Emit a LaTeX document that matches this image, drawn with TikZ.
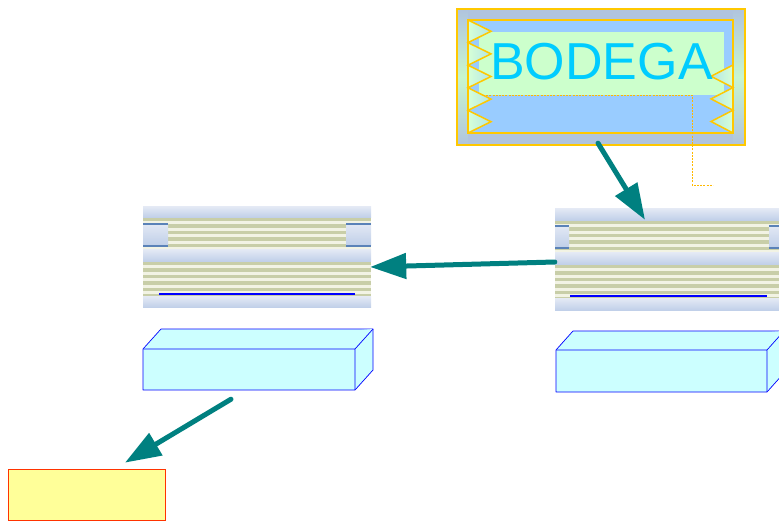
\documentclass[tikz,border=0pt]{standalone}
\usepackage{fontspec}
\setmainfont{Liberation Sans}
\usetikzlibrary{arrows.meta}
\definecolor{gold}{HTML}{FFC800}
\definecolor{teal2}{HTML}{008080}
\definecolor{skyb}{HTML}{99CCFF}
\definecolor{mint}{HTML}{CCFFCC}
\definecolor{steel}{HTML}{B0C4DE}
\definecolor{bandA}{HTML}{BECEE8}
\definecolor{bandB}{HTML}{E2E8F4}
\definecolor{olive}{HTML}{C8CEA8}
\definecolor{cream}{HTML}{F2F3E4}
\definecolor{cyanbox}{HTML}{CCFFFF}
\definecolor{lemon}{HTML}{FFFF99}
\definecolor{redline}{HTML}{FF3300}
\definecolor{txtcyan}{HTML}{00CCFF}
\definecolor{slate}{HTML}{5A82B8}
\tikzset{
  conn/.style={draw=teal2, line width=5pt, line cap=round, -{Triangle[length=36pt,width=25pt]}},
  box3d/.style={draw=blue, fill=cyanbox, line width=0.7pt, line join=round},
  band/.style={top color=bandB, bottom color=bandA},
  goldline/.style={draw=gold, line width=1.8pt},
}
\newcommand{\stripes}[4]{% x0 y0 x1 y1
  \fill[cream] (#1,#2) rectangle (#3,#4);
  \pgfmathsetmacro{\hh}{#4-#2}
  \pgfmathtruncatemacro{\nn}{\hh/6.4}
  \foreach \k in {0,...,\nn}{
    \pgfmathsetmacro{\ya}{#2+\k*6.4}
    \pgfmathsetmacro{\yb}{min(\ya+3.4,#4)}
    \fill[olive] (#1,\ya) rectangle (#3,\yb);
  }
}
\begin{document}
\begin{tikzpicture}[x=1pt,y=-1pt]
\useasboundingbox (0,0) rectangle (779,521);
\clip (0,0) rectangle (779,521);

% ---------- BODEGA box ----------
\node[rectangle, inner sep=0pt, minimum width=288pt, minimum height=136pt, fill=steel]
      (bodega) at (601,77) {};
\fill[top color=steel, bottom color=steel, middle color=mint!85!steel] (457,9) rectangle (468,145);
\fill[top color=steel, bottom color=steel, middle color=mint!85!steel] (733,9) rectangle (745,145);
\draw[goldline] (bodega.north west) rectangle (bodega.south east);
\fill[skyb] (468,20) rectangle (733,133);
\fill[mint] (479,32) rectangle (724,95);
% teeth
\fill[left color=mint!80!white, right color=mint!50!skyb]
  (468,20) -- (491,31.3) -- (468,42.6) -- (491,53.9) -- (468,65.2) -- (491,76.5)
  -- (468,87.8) -- (491,99.1) -- (468,110.4) -- (491,121.7) -- (468,133) -- cycle;
\fill[right color=mint!80!white, left color=mint!50!skyb]
  (733,65) -- (711,76.3) -- (733,87.6) -- (711,98.9) -- (733,110.2) -- (711,121.5) -- (733,133) -- cycle;
\draw[draw=gold, line width=1.5pt, line join=miter]
  (468,20) -- (491,31.3) -- (468,42.6) -- (491,53.9) -- (468,65.2) -- (491,76.5)
  -- (468,87.8) -- (491,99.1) -- (468,110.4) -- (491,121.7) -- (468,133);
\draw[draw=gold, line width=1.5pt, line join=miter]
  (733,65) -- (711,76.3) -- (733,87.6) -- (711,98.9) -- (733,110.2) -- (711,121.5) -- (733,133);
\draw[goldline] (468,20) rectangle (733,133);
\node[anchor=base, inner sep=0pt, text=txtcyan, font=\fontsize{52}{52}\selectfont] (label) at (601.5,80) {BODEGA};
% dotted leader
\coordinate (lead) at (713,185);
\draw[gold!80!orange, line width=0.7pt, dash pattern=on 2pt off 1.2pt]
  (483,95) -- (692,95) -- (692,185) -- (lead);

% ---------- striped blocks ----------
\node[rectangle, inner sep=0pt, minimum width=228pt, minimum height=101pt] (blkL) at (257,257.5) {};
\fill[band] (143,207) rectangle (371,218);
\stripes{143}{218}{371}{250}
\fill[band] (143,224) rectangle (168,246);
\fill[band] (346,224) rectangle (371,246);
\fill[band] (143,250) rectangle (371,262);
\stripes{143}{262}{371}{297}
\fill[band] (143,297) rectangle (371,308);
\draw[slate, line width=1.3pt] (143,224) -- (168,224) (346,224) -- (371,224)
  (143,246) -- (168,246) (346,246) -- (371,246);
\draw[blue, line width=1.3pt] (159,294) -- (355,294);

\node[rectangle, inner sep=0pt, minimum width=224pt, minimum height=102pt] (blkR) at (667,260) {};
\fill[band] (555,209) rectangle (779,221);
\stripes{555}{221}{779}{253}
\fill[band] (555,226) rectangle (569,248);
\fill[band] (769,226) rectangle (779,248);
\fill[band] (555,253) rectangle (779,265);
\stripes{555}{265}{779}{299}
\fill[band] (555,299) rectangle (779,311);
\draw[slate, line width=1.3pt] (555,226) -- (569,226) (769,226) -- (779,226)
  (555,248) -- (569,248) (769,248) -- (779,248);
\draw[blue, line width=1.3pt] (570,296) -- (767,296);

% ---------- 3D boxes ----------
\node[rectangle, inner sep=0pt, minimum width=212pt, minimum height=41pt] (cubeL) at (249,369.5) {};
\draw[box3d] (143,349) -- (161,329) -- (373,329) -- (373,370) -- (355,390) -- (143,390) -- cycle;
\draw[box3d] (143,349) -- (355,349) -- (373,329) (355,349) -- (355,390);

\node[rectangle, inner sep=0pt, minimum width=211pt, minimum height=42pt] (cubeR) at (661.5,371) {};
\draw[box3d] (556,350) -- (573,331) -- (784,331) -- (784,373) -- (767,392) -- (556,392) -- cycle;
\draw[box3d] (556,350) -- (767,350) -- (784,331) (767,350) -- (767,392);

% ---------- yellow box ----------
\node[rectangle, inner sep=0pt, minimum width=157pt, minimum height=51pt,
      draw=redline, fill=lemon, line width=0.7pt] (ybox) at (86.5,494.5) {};

% ---------- connectors ----------
\coordinate (a1s) at ([xshift=-3pt,yshift=2pt]bodega.south);
\coordinate (a1e) at ([xshift=-22pt,yshift=-11pt]blkR.north);
\draw[conn] (a1s) -- (a1e);
\coordinate (a2s) at ([yshift=-2pt]blkR.west);
\coordinate (a2e) at ([xshift=-1pt,yshift=-9.5pt]blkL.east);
\draw[conn] (a2s) -- (a2e);
\coordinate (a3s) at ([xshift=-18pt,yshift=-9pt]cubeL.south);
\coordinate (a3e) at ([xshift=38.5pt,yshift=6pt]ybox.north);
\draw[conn] (a3s) -- (a3e);
\end{tikzpicture}
\end{document}
